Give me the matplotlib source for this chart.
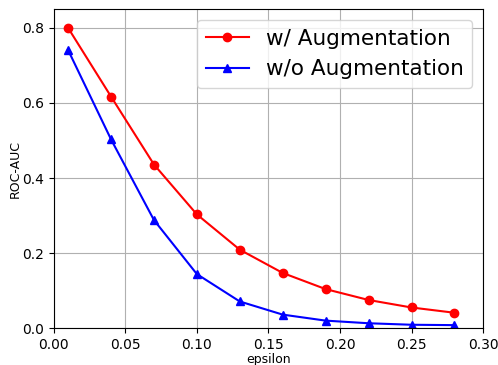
import matplotlib
matplotlib.use("Agg")
import matplotlib.pyplot as plt
from matplotlib.ticker import MultipleLocator

epsilon = [0.01, 0.04, 0.07, 0.10, 0.13, 0.16, 0.19, 0.22, 0.25, 0.28]
with_aug = [0.800, 0.617, 0.436, 0.303, 0.209, 0.147, 0.104, 0.075, 0.055, 0.041]
without_aug = [0.741, 0.503, 0.288, 0.144, 0.071, 0.036, 0.020, 0.013, 0.009, 0.008]

fig = plt.figure(figsize=(4.98, 3.65), dpi=100)
ax = fig.add_axes([0.108, 0.101, 0.862, 0.874])

ax.plot(epsilon, with_aug, color='red', marker='o', label='w/ Augmentation')
ax.plot(epsilon, without_aug, color='blue', marker='^', label='w/o Augmentation')

ax.set_xlim(0, 0.30)
ax.set_ylim(0, 0.85)
ax.yaxis.set_major_locator(MultipleLocator(0.2))
ax.set_xlabel('epsilon', fontsize=9, labelpad=1)
ax.set_ylabel('ROC-AUC', fontsize=9, labelpad=0)
ax.grid(True)
ax.legend(fontsize=15.5, loc='upper right')

fig.savefig('out.png', dpi=100)
